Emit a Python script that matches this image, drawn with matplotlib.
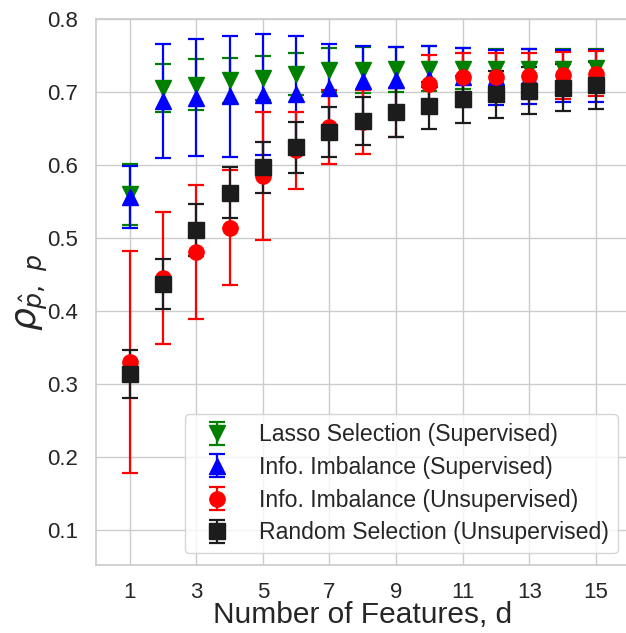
import matplotlib
matplotlib.use('Agg')
import matplotlib.pyplot as plt
import seaborn as sns

# number of selected features
n_features = list(range(1, 16))

# Lasso selection (supervised)
lasso_mean = [0.560, 0.706, 0.710, 0.716, 0.719, 0.725, 0.730, 0.730, 0.731, 0.732, 0.732, 0.732, 0.732, 0.732, 0.733]
lasso_err = [0.042, 0.033, 0.035, 0.031, 0.030, 0.029, 0.030, 0.031, 0.031, 0.031, 0.028, 0.027, 0.027, 0.027, 0.026]

# Information imbalance (supervised)
ii_sup_mean = [0.556, 0.688, 0.692, 0.694, 0.696, 0.697, 0.706, 0.715, 0.716, 0.718, 0.720, 0.720, 0.721, 0.722, 0.722]
ii_sup_err = [0.042, 0.078, 0.080, 0.083, 0.083, 0.080, 0.060, 0.048, 0.046, 0.045, 0.040, 0.038, 0.038, 0.036, 0.036]

# Information imbalance (unsupervised)
ii_unsup_mean = [0.330, 0.445, 0.481, 0.514, 0.585, 0.620, 0.652, 0.659, 0.672, 0.711, 0.720, 0.721, 0.722, 0.723, 0.725]
ii_unsup_err = [0.152, 0.090, 0.092, 0.079, 0.088, 0.053, 0.051, 0.044, 0.034, 0.040, 0.033, 0.032, 0.032, 0.032, 0.031]

# Random selection (unsupervised)
random_mean = [0.314, 0.437, 0.511, 0.562, 0.597, 0.624, 0.645, 0.660, 0.672, 0.681, 0.690, 0.697, 0.702, 0.706, 0.709]
random_err = [0.033, 0.034, 0.035, 0.035, 0.035, 0.035, 0.034, 0.033, 0.033, 0.032, 0.032, 0.032, 0.032, 0.032, 0.032]

sns.set_theme(style='whitegrid')
plt.rcParams['font.family'] = ['Liberation Sans', 'DejaVu Sans']

fig = plt.figure(figsize=(6.26, 6.33), dpi=100)
ax = fig.add_axes([0.154, 0.1074, 0.851, 0.8626])

series = [
    (lasso_mean, lasso_err, 'v', 'green', 'Lasso Selection (Supervised)'),
    (ii_sup_mean, ii_sup_err, '^', 'blue', 'Info. Imbalance (Supervised)'),
    (ii_unsup_mean, ii_unsup_err, 'o', 'red', 'Info. Imbalance (Unsupervised)'),
    (random_mean, random_err, 's', '#1c1c1c', 'Random Selection (Unsupervised)'),
]
for mean, err, marker, color, label in series:
    ax.errorbar(n_features, mean, yerr=err, fmt=marker, color=color,
                markersize=11, elinewidth=1.6, capsize=6, capthick=1.6,
                linestyle='none', label=label)

ax.set_xlim(0, 16)
ax.set_ylim(0.052, 0.8)
ax.set_xticks(n_features[::2])
ax.tick_params(labelsize=16)
ax.tick_params(axis='y', pad=7)
ax.tick_params(axis='x', pad=6)
ax.set_xlabel('Number of Features, d', fontsize=21.5, labelpad=-1)
ax.set_ylabel(r'$\rho_{\hat{p},\ p}$', fontsize=26, labelpad=-2)
ax.legend(loc='lower right', fontsize=16.6, labelspacing=0.42)

fig.savefig('out.png', dpi=100)
